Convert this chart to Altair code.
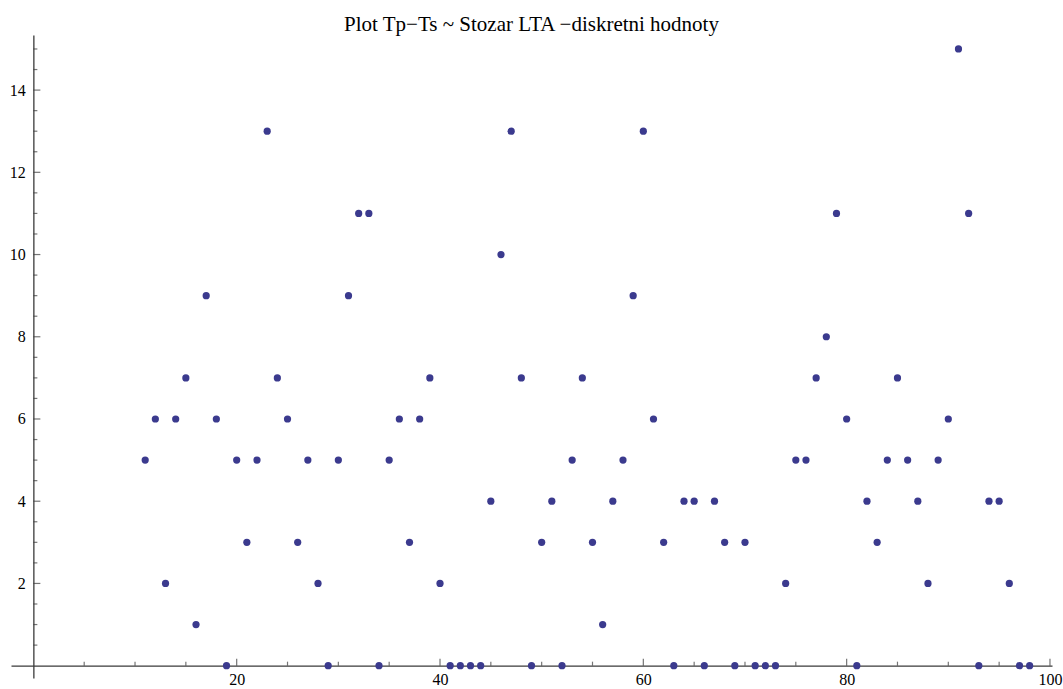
import altair as alt
import pandas as pd

# Index of each discrete observation and its Tp-Ts value
x_vals = [11, 12, 13, 14, 15, 16, 17, 18, 19, 20,
          21, 22, 23, 24, 25, 26, 27, 28, 29, 30,
          31, 32, 33, 34, 35, 36, 37, 38, 39, 40,
          41, 42, 43, 44, 45, 46, 47, 48, 49, 50,
          51, 52, 53, 54, 55, 56, 57, 58, 59, 60,
          61, 62, 63, 64, 65, 66, 67, 68, 69, 70,
          71, 72, 73, 74, 75, 76, 77, 78, 79, 80,
          81, 82, 83, 84, 85, 86, 87, 88, 89, 90,
          91, 92, 93, 94, 95, 96, 97, 98]
y_vals = [5, 6, 2, 6, 7, 1, 9, 6, 0, 5,
          3, 5, 13, 7, 6, 3, 5, 2, 0, 5,
          9, 11, 11, 0, 5, 6, 3, 6, 7, 2,
          0, 0, 0, 0, 4, 10, 13, 7, 0, 3,
          4, 0, 5, 7, 3, 1, 4, 5, 9, 13,
          6, 3, 0, 4, 4, 0, 4, 3, 0, 3,
          0, 0, 0, 2, 5, 5, 7, 8, 11, 6,
          0, 4, 3, 5, 7, 5, 4, 2, 5, 6,
          15, 11, 0, 4, 4, 2, 0, 0]

# Axis ticks (labelled majors, unlabelled minors)
x_major = [20, 40, 60, 80, 100]
x_minor = [5, 10, 15, 25, 30, 35, 45, 50, 55, 65, 70, 75, 85, 90, 95]
y_major = [2, 4, 6, 8, 10, 12, 14]
y_minor = [0.5, 1, 1.5, 2.5, 3, 3.5, 4.5, 5, 5.5, 6.5, 7, 7.5, 8.5, 9, 9.5,
           10.5, 11, 11.5, 12.5, 13, 13.5, 14.5, 15]

TITLE = "Plot Tp\u2212Ts ~ Stozar LTA  \u2212diskretni hodnoty"
FONT = "'Liberation Serif', 'Times New Roman', Times, serif"
POINT_COLOR = "#3b3a8e"
AXIS_COLOR = "#3a3a3a"

W, H = 1041, 643
X_DOM = [-2.2, 100.2]
Y_DOM = [-0.3, 15.34]

# axes cross at the origin: shift them inward from the frame edges
x_axis_shift = -(0 - Y_DOM[0]) * H / (Y_DOM[1] - Y_DOM[0])
y_axis_shift = -(0 - X_DOM[0]) * W / (X_DOM[1] - X_DOM[0])

pts = pd.DataFrame({"x": x_vals, "y": y_vals})
xt = pd.DataFrame({"v": x_major + x_minor,
                   "len": [7] * len(x_major) + [4] * len(x_minor)})
yt = pd.DataFrame({"v": y_major + y_minor,
                   "len": [7] * len(y_major) + [4] * len(y_minor)})

xs = alt.Scale(domain=X_DOM, nice=False, zero=False)
ys = alt.Scale(domain=Y_DOM, nice=False, zero=False)

x_axis = alt.Axis(values=x_major, offset=x_axis_shift, grid=False, ticks=False,
                  labelPadding=6, domainColor=AXIS_COLOR, domainWidth=1.3,
                  labelFont=FONT, labelFontSize=16, labelColor="black",
                  title=None, labelFlush=False)
y_axis = alt.Axis(values=y_major, offset=y_axis_shift, grid=False, ticks=False,
                  labelPadding=8, domainColor=AXIS_COLOR, domainWidth=1.3,
                  labelFont=FONT, labelFontSize=16, labelColor="black",
                  title=None, labelFlush=False)

points = alt.Chart(pts).mark_circle(size=52, color=POINT_COLOR, opacity=1).encode(
    x=alt.X("x:Q", scale=xs, axis=x_axis),
    y=alt.Y("y:Q", scale=ys, axis=y_axis),
)

# inward-pointing ticks on the horizontal axis
x_ticks_major = alt.Chart(xt[xt["len"] == 7]).mark_tick(
    orient="vertical", size=7, thickness=1.2, color=AXIS_COLOR, yOffset=-3.5
).encode(x=alt.X("v:Q", scale=xs), y=alt.datum(0, scale=ys))
x_ticks_minor = alt.Chart(xt[xt["len"] == 4]).mark_tick(
    orient="vertical", size=4, thickness=1.2, color=AXIS_COLOR, yOffset=-2
).encode(x=alt.X("v:Q", scale=xs), y=alt.datum(0, scale=ys))

# inward-pointing ticks on the vertical axis
y_ticks_major = alt.Chart(yt[yt["len"] == 7]).mark_tick(
    orient="horizontal", size=7, thickness=1.2, color=AXIS_COLOR, xOffset=3.5
).encode(y=alt.Y("v:Q", scale=ys), x=alt.datum(0, scale=xs))
y_ticks_minor = alt.Chart(yt[yt["len"] == 4]).mark_tick(
    orient="horizontal", size=4, thickness=1.2, color=AXIS_COLOR, xOffset=2
).encode(y=alt.Y("v:Q", scale=ys), x=alt.datum(0, scale=xs))

chart = alt.layer(
    x_ticks_major, x_ticks_minor, y_ticks_major, y_ticks_minor, points
).properties(
    width=W, height=H,
    title=alt.TitleParams(TITLE, font=FONT, fontSize=21, fontWeight="normal",
                          color="black", anchor="middle", offset=0),
    autosize=alt.AutoSizeParams(type="none"),
    padding={"left": 11, "top": 35, "right": 11, "bottom": 11},
    background="white",
).configure_view(stroke=None)

chart.save("out.html", embed_options={"renderer": "svg", "actions": False})
